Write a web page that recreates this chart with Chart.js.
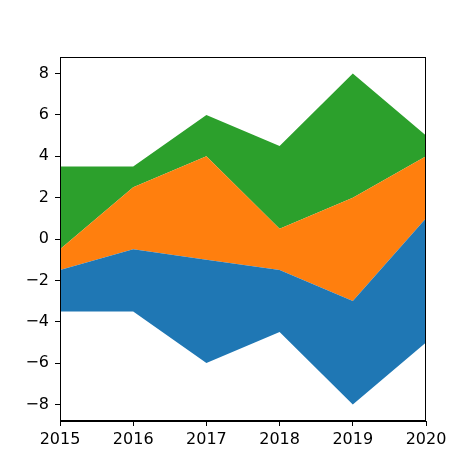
<!DOCTYPE html>
<html>
<head>
<meta charset="utf-8">
<script src="https://cdn.jsdelivr.net/npm/chart.js@4"></script>
<style>
html,body{margin:0;padding:0;background:#fff;}
#c{display:block;}
</style>
</head>
<body>
<canvas id="c" width="474" height="474"></canvas>
<script>
const years = [2015, 2016, 2017, 2018, 2019, 2020];
const blue = [2, 3, 5, 3, 5, 6];
const orange = [1, 3, 5, 2, 5, 3];
const green = [4, 1, 2, 4, 6, 1];
const yTicks = [-8, -6, -4, -2, 0, 2, 4, 6, 8];
const xTicks = [2015, 2016, 2017, 2018, 2019, 2020];

// symmetric baseline (stackplot 'sym')
const totals = years.map((_, i) => blue[i] + orange[i] + green[i]);
const base = totals.map(t => -t / 2);
const b1 = base.map((v, i) => v + blue[i]);
const b2 = b1.map((v, i) => v + orange[i]);
const b3 = b2.map((v, i) => v + green[i]);
const pts = arr => arr.map((v, i) => ({x: years[i], y: v}));

const font = {family: 'DejaVu Sans', size: 16};

const frame = {
  id: 'frame',
  afterDraw(chart) {
    const a = chart.chartArea, ctx = chart.ctx;
    ctx.save();
    ctx.strokeStyle = '#000';
    ctx.lineWidth = 1;
    ctx.strokeRect(Math.round(a.left) + 0.5, Math.round(a.top) + 0.5,
      Math.round(a.right - a.left) - 1, Math.round(a.bottom - a.top) - 1);
    ctx.restore();
  }
};

const ds = (data, color, fill) => ({
  data, fill, backgroundColor: color, borderColor: color, borderWidth: 0,
  pointRadius: 0, tension: 0
});

new Chart(document.getElementById('c'), {
  type: 'line',
  data: {
    datasets: [
      {data: pts(base), fill: false, borderWidth: 0, borderColor: 'rgba(0,0,0,0)', pointRadius: 0},
      ds(pts(b1), '#1f77b4', '-1'),
      ds(pts(b2), '#ff7f0e', '-1'),
      ds(pts(b3), '#2ca02c', '-1')
    ]
  },
  options: {
    responsive: false,
    animation: false,
    devicePixelRatio: 1,
    layout: {padding: {left: 0, right: 48, top: 57, bottom: 0}},
    plugins: {legend: {display: false}, tooltip: {enabled: false}},
    scales: {
      x: {
        type: 'linear', min: 2015, max: 2020,
        afterBuildTicks: s => { s.ticks = xTicks.map(v => ({value: v})); },
        afterFit: s => { s.height = 53; },
        grid: {display: true, drawOnChartArea: false, drawTicks: true, tickLength: 5, tickColor: '#000', tickWidth: 1},
        border: {display: true, color: '#000', width: 1},
        ticks: {color: '#000', font, padding: 4, maxRotation: 0, autoSkip: false, callback: v => String(v)}
      },
      y: {
        type: 'linear', min: -8.8, max: 8.8,
        afterBuildTicks: s => { s.ticks = yTicks.map(v => ({value: v})); },
        afterFit: s => { s.width = 60; },
        grid: {display: true, drawOnChartArea: false, drawTicks: true, tickLength: 5, tickColor: '#000', tickWidth: 1},
        border: {display: true, color: '#000', width: 1},
        ticks: {color: '#000', font, padding: 6, autoSkip: false,
          callback: v => (v < 0 ? '\u2212' + Math.abs(v) : String(v))}
      }
    }
  },
  plugins: [frame]
});
</script>
</body>
</html>
